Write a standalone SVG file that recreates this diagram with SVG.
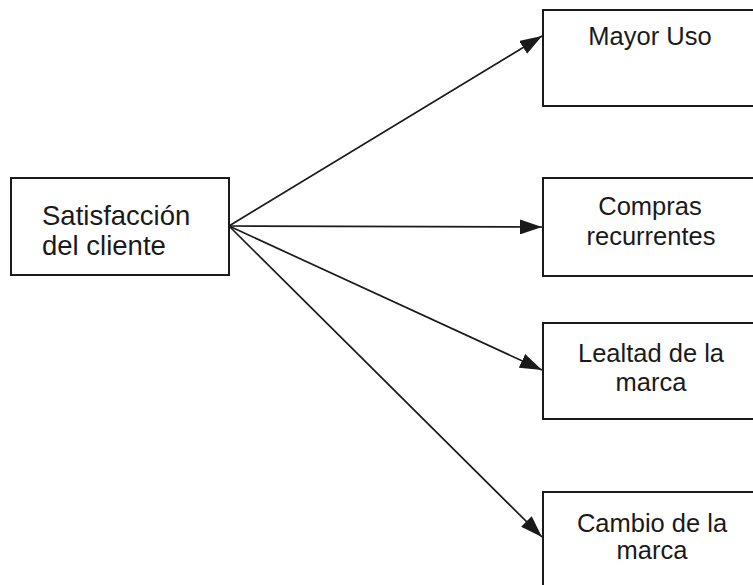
<svg xmlns="http://www.w3.org/2000/svg" width="753" height="585" viewBox="0 0 753 585">
<style>
.box{fill:#fff;stroke:#1a1a1a;stroke-width:2}
.t{font-family:"Liberation Sans",Arial,sans-serif;font-size:25.5px;fill:#1a1a1a}
.big{font-size:27.5px}
.c{text-anchor:middle}
.ln{stroke:#1a1a1a;stroke-width:1.7;fill:none;marker-end:url(#ah)}
</style>
<defs>
<marker id="ah" viewBox="0 0 22 15" refX="22" refY="7.5" markerWidth="22" markerHeight="15" markerUnits="userSpaceOnUse" orient="auto">
<path d="M0,0 L22,7.5 L0,15 Z" fill="#1a1a1a"/>
</marker>
</defs>
<rect width="753" height="585" fill="#fff"/>
<g id="connectors">
<line class="ln" x1="229" y1="226" x2="542" y2="36"/>
<line class="ln" x1="229" y1="226" x2="542" y2="227"/>
<line class="ln" x1="229" y1="226" x2="542" y2="370"/>
<line class="ln" x1="229" y1="226" x2="542" y2="537"/>
</g>
<g id="satisfaccion">
<rect class="box" x="11" y="178" width="218" height="97"/>
<text class="t big" x="42" y="225">Satisfacción</text>
<text class="t big" x="42" y="255">del cliente</text>
</g>
<g id="mayor-uso">
<rect class="box" x="543" y="10" width="215" height="96"/>
<text class="t c" x="650" y="45">Mayor Uso</text>
</g>
<g id="compras">
<rect class="box" x="543" y="178" width="215" height="98"/>
<text class="t c" x="650" y="215">Compras</text>
<text class="t c" x="651" y="245">recurrentes</text>
</g>
<g id="lealtad">
<rect class="box" x="543" y="323" width="215" height="96"/>
<text class="t c" x="651" y="362">Lealtad de la</text>
<text class="t c" x="651" y="391">marca</text>
</g>
<g id="cambio">
<rect class="box" x="543" y="492" width="215" height="100"/>
<text class="t c" x="652" y="532">Cambio de la</text>
<text class="t c" x="652" y="559">marca</text>
</g>
</svg>
